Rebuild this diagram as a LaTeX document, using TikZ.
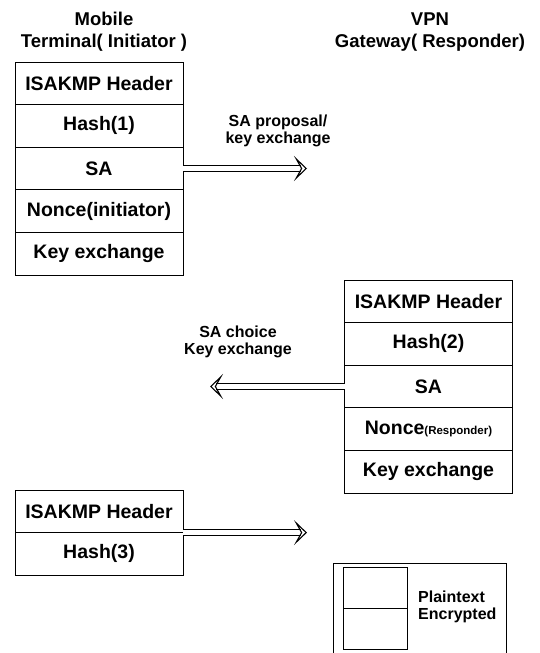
\documentclass[tikz,border=0pt]{standalone}
\usepackage{fontspec}
\setmainfont{Liberation Sans}
\usetikzlibrary{positioning,arrows.meta}
\tikzset{%
  field/.style={draw, line width=0.9pt, minimum width=168pt, minimum height=42.6pt,
    inner sep=0pt, outer sep=0pt, font=\fontsize{19.5}{21}\selectfont\bfseries},
  party/.style={align=center, font=\fontsize{18.5}{22}\selectfont\bfseries},
  msg/.style={align=center, font=\fontsize{16}{17.5}\selectfont\bfseries},
  pipe/.style={double distance=4.5pt, line width=1.1pt,
    -{Stealth[open,length=13pt,width=25pt,inset=7pt,line width=1.1pt]}},
  swatch/.style={draw, line width=0.9pt, minimum width=64pt, minimum height=41pt,
    inner sep=0pt, outer sep=0pt}
}

\begin{document}
\begin{tikzpicture}[x=1pt,y=-1pt]
\useasboundingbox (0,0) rectangle (539,653);

\node[party] (initNode) at (104,32) {Mobile\\Terminal( Initiator )};
\node[party] (respNode) at (430,32) {VPN\\Gateway( Responder)};

% first message
\node[field] (hdrANode) at (99,83.3) {ISAKMP Header};
\node[field, below=0pt of hdrANode] (hashANode) {Hash(1)};
\node[field, below=0pt of hashANode] (saANode) {SA};
\node[field, below=0pt of saANode] (nonceANode) {Nonce(initiator)};
\node[field, below=0pt of nonceANode] (keyANode) {Key exchange};

% second message
\node[field] (hdrBNode) at (428.5,301.3) {ISAKMP Header};
\node[field, below=0pt of hdrBNode] (hashBNode) {Hash(2)};
\node[field, below=0pt of hashBNode] (saBNode) {SA};
\node[field, below=0pt of saBNode] (nonceBNode) {Nonce{\fontsize{11.5}{12}\selectfont(Responder)}};
\node[field, below=0pt of nonceBNode] (keyBNode) {Key exchange};

% third message
\node[field] (hdrCNode) at (99,511.3) {ISAKMP Header};
\node[field, below=0pt of hdrCNode] (hashCNode) {Hash(3)};

\coordinate (aTipNode) at (307,168.5);
\coordinate (bTipNode) at (210,386.5);
\coordinate (cTipNode) at (307,532.6);

\draw[pipe] (saANode.east) -- (aTipNode);
\draw[pipe] (saBNode.west) -- (bTipNode);
\draw[pipe] (hdrCNode.south east) -- (cTipNode);

\node[msg] (propNode) at (278,131) {SA proposal/\\key exchange};
\node[msg] (choiceNode) at (238,342) {SA choice\\Key exchange};

% legend
\node[draw, line width=0.9pt, minimum width=173pt, minimum height=92pt, inner sep=0pt,
  anchor=north west] (legendNode) at (333,563) {};
\node[swatch, anchor=north west] (plainNode) at (343,567) {};
\node[swatch, below=0pt of plainNode] (encNode) {};
\node[msg, align=left, anchor=west, inner sep=0pt] (legTextNode) at (418,607)
  {Plaintext\\Encrypted};
\end{tikzpicture}
\end{document}
